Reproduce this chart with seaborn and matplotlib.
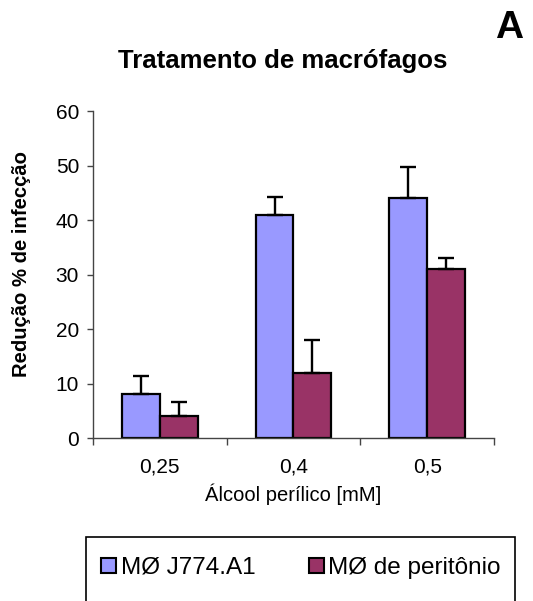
import matplotlib
matplotlib.use("Agg")
import matplotlib.pyplot as plt
from matplotlib.patches import Rectangle, Patch
import numpy as np
import pandas as pd
import seaborn as sns

# Data
concentrations = ["0,25", "0,4", "0,5"]
series = ["MØ J774.A1", "MØ de peritônio"]
j774_values = [8, 41, 44]
j774_errors = [3.4, 3.2, 5.7]
peritonio_values = [4, 12, 31]
peritonio_errors = [2.6, 6.0, 2.0]
colors = ["#9999FF", "#993366"]
y_ticks = [0, 10, 20, 30, 40, 50, 60]

sns.set_theme(style="white")
plt.rcParams["font.family"] = ["Liberation Sans", "DejaVu Sans"]
plt.rcParams["text.color"] = "black"
plt.rcParams["axes.labelcolor"] = "black"
plt.rcParams["xtick.color"] = "black"
plt.rcParams["ytick.color"] = "black"

df = pd.DataFrame({
    "conc": concentrations * 2,
    "serie": [series[0]] * 3 + [series[1]] * 3,
    "valor": j774_values + peritonio_values,
})

fig = plt.figure(figsize=(5.33, 6.01), dpi=100)
ax = fig.add_axes([0.1745, 0.2712, 0.7523, 0.5441])

sns.barplot(data=df, x="conc", y="valor", hue="serie", order=concentrations,
            hue_order=series, palette=colors, width=0.567, saturation=1,
            errorbar=None, edgecolor="black", linewidth=1.6, ax=ax, legend=False)

# Upward error bars on top of each bar
errs = j774_errors + peritonio_errors
vals = j774_values + peritonio_values
for patch, v, e in zip(ax.patches, vals, errs):
    xc = patch.get_x() + patch.get_width() / 2
    ax.errorbar(xc, v, yerr=[[0], [e]], fmt="none", ecolor="black",
                elinewidth=1.7, capsize=5.8, capthick=1.7, zorder=1)

ax.set_ylim(0, 60)
ax.set_xlim(-0.5, 2.5)
ax.set_yticks(y_ticks)
ax.set_yticklabels([str(t) for t in y_ticks], fontsize=15)
ax.set_xticks(range(3))
ax.set_xticklabels(concentrations, fontsize=15)
ax.set_xticks([-0.5, 0.5, 1.5, 2.5], minor=True)
ax.tick_params(axis="x", which="major", length=0, pad=14)
ax.tick_params(axis="x", which="minor", length=5, width=1, color="#444444",
               direction="out", bottom=True)
ax.tick_params(axis="y", length=4, width=1, color="#444444", direction="out",
               left=True, pad=6)

for side in ["top", "right"]:
    ax.spines[side].set_visible(False)
for side in ["left", "bottom"]:
    ax.spines[side].set_color("#444444")
    ax.spines[side].set_linewidth(1)

ax.set_xlabel("Álcool perílico [mM]", fontsize=14.5, labelpad=5)
ax.set_ylabel("")
fig.text(0.041, 0.56, "Redução % de infecção", rotation=90, fontsize=14.6,
         fontweight="bold", ha="center", va="center")

fig.text(0.53, 0.898, "Tratamento de macrófagos", fontsize=18.5,
         fontweight="bold", ha="center", va="center")
fig.text(0.955, 0.953, "A", fontsize=28, fontweight="bold",
         ha="center", va="center")

# Legend box running off the bottom edge
fig.patches.append(Rectangle((0.161, -0.05), 0.805, 0.1565,
                             transform=fig.transFigure, fill=False,
                             edgecolor="black", linewidth=1.2))
handles = [Patch(facecolor=c, edgecolor="black", linewidth=1.5) for c in colors]
fig.legend(handles, series, loc="center", bbox_to_anchor=(0.565, 0.055),
           ncol=2, frameon=False, fontsize=17.5, handlelength=0.6,
           handleheight=0.6, handletextpad=0.2, columnspacing=2.2)

fig.savefig("out.png", dpi=100)
